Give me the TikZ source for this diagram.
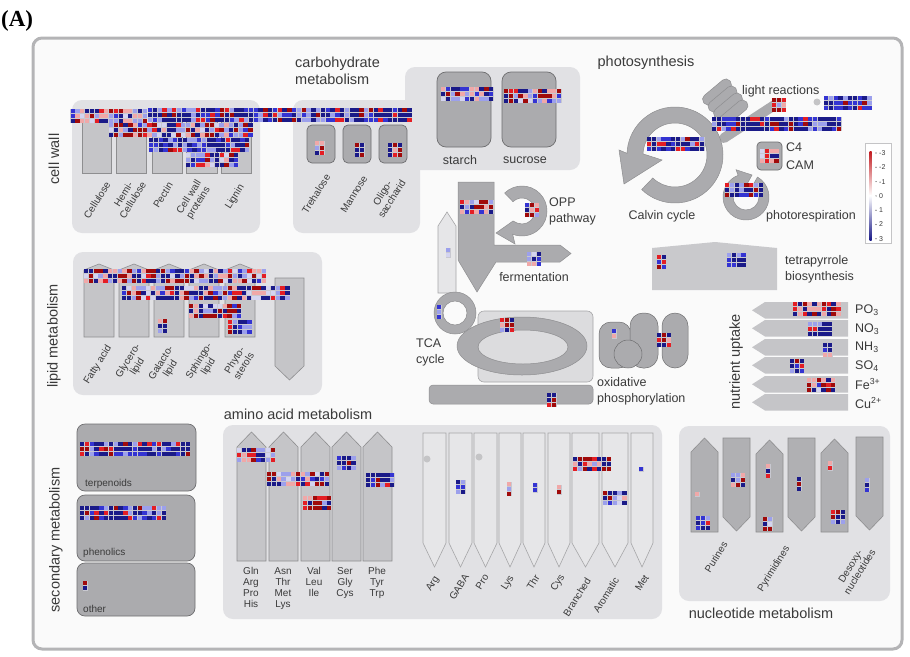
\documentclass[tikz,border=0pt]{standalone}
\usepackage{fontspec}
\setmainfont{Liberation Sans}
\newfontfamily\tagfont{Liberation Serif}
\usetikzlibrary{arrows.meta}

\definecolor{cpanel}{HTML}{E1E1E4}
\definecolor{cbox}{HTML}{C5C5C8}
\definecolor{cboxline}{HTML}{8E8E90}
\definecolor{cdark}{HTML}{ABABAE}
\definecolor{cdarkline}{HTML}{6E6E70}
\definecolor{cpale}{HTML}{E6E6E8}
\definecolor{cpaleline}{HTML}{A6A6A8}
\definecolor{ctca}{HTML}{DCDCDE}
\definecolor{ctext}{HTML}{3A3A3A}
\definecolor{cframe}{HTML}{B4B4B6}
\definecolor{cdot}{HTML}{C4C4C6}
\definecolor{hmback}{HTML}{C8C8D0}
\definecolor{hmnavy}{HTML}{1A1A88}
\definecolor{hmblue}{HTML}{3434D2}
\definecolor{hmlb}{HTML}{9CA0EC}
\definecolor{hmpale}{HTML}{D4D4F0}
\definecolor{hmlr}{HTML}{F0A8A8}
\definecolor{hmred}{HTML}{E41E24}
\definecolor{hmdred}{HTML}{A00A0A}

% colour mixes of the expression blocks
\pgfmathdeclarerandomlist{b}{{hmnavy}{hmnavy}{hmnavy}{hmnavy}{hmnavy}{hmblue}{hmblue}{hmlb}{hmlb}{hmred}{hmdred}}
\pgfmathdeclarerandomlist{m}{{hmnavy}{hmnavy}{hmnavy}{hmblue}{hmlb}{hmlb}{hmpale}{hmlr}{hmlr}{hmred}{hmdred}{hmdred}}
\pgfmathdeclarerandomlist{r}{{hmdred}{hmdred}{hmdred}{hmred}{hmred}{hmlr}{hmlr}{hmlb}{hmnavy}{hmnavy}}

% x, y, columns, rows, mix
\newcommand{\heat}[5]{%
  \fill[hmback] ({#1-0.5},{#2-0.5}) rectangle ++({#3*4.8+0.5},{#4*4.8+0.5});
  \foreach \cx in {1,...,#3}{
    \foreach \cy in {1,...,#4}{
      \pgfmathrandomitem{\hcol}{#5}
      \fill[fill=\hcol] ({#1+(\cx-1)*4.8},{#2+(\cy-1)*4.8}) rectangle ++(4.3,4.3);
    }
  }
}

\begin{document}
\begin{tikzpicture}[
  x=1pt, y=-1pt,
  wallbox/.style={fill=cbox, draw=cboxline, line width=0.6pt},
  darkbox/.style={fill=cdark, draw=cdarkline, line width=0.7pt},
  paleshape/.style={fill=cpale, draw=cpaleline, line width=0.6pt},
  ring/.style={fill=cdark, draw=cboxline, line width=0.5pt},
  sect/.style={font=\fontsize{14.5}{17}\selectfont, text=ctext, inner sep=0pt, align=left},
  lab/.style={font=\fontsize{12.5}{16}\selectfont, text=ctext, inner sep=0pt, align=left},
  rotlab/.style={font=\fontsize{10}{11}\selectfont, text=ctext, inner sep=0pt, align=center, rotate=58},
  boxlab/.style={font=\fontsize{10}{11}\selectfont, text=ctext, inner sep=0pt, align=center},
  legtxt/.style={font=\fontsize{7}{8}\selectfont, text=ctext, inner sep=0pt}
]
\pgfmathsetseed{4211}
\useasboundingbox (0,0) rectangle (910,656);

% frame and title
\draw[cframe, line width=3pt, rounded corners=9pt, fill=white!98!black] (33,38) rectangle (902,649);
\node[font=\tagfont\bfseries\fontsize{23}{26}\selectfont, anchor=west, inner sep=0pt] (tag) at (1,21) {(A)};

% panels
\fill[cpanel, rounded corners=10pt] (72,100) rectangle (260,233);
\fill[cpanel, rounded corners=10pt] (293,100) rectangle (420,233);
\fill[cpanel, rounded corners=10pt] (405,67) rectangle (580,170);
\fill[cpanel, rounded corners=10pt] (73,252) rectangle (322,395);
\fill[cpanel, rounded corners=10pt] (223,425) rectangle (662,619);
\fill[cpanel, rounded corners=10pt] (679,426) rectangle (890,601);

% cell wall and carbohydrates
\foreach \a/\b in {82/111,116/146,152/182,186/217,221/251}
  \filldraw[wallbox] (\a,118) rectangle (\b,173);
\foreach \a in {307,343,379}
  \filldraw[darkbox, rounded corners=5pt] (\a,125) rectangle ++(28,38);
\filldraw[darkbox, rounded corners=9pt] (437,72) rectangle (491,147);
\filldraw[darkbox, rounded corners=9pt] (502,72) rectangle (556,147);

% lipids
\foreach \a in {84,119,154,189,225}
  \filldraw[wallbox] (\a,337) -- (\a,270) -- ({\a+15},264) -- ({\a+30},270) -- ({\a+30},337) -- cycle;
\filldraw[wallbox] (275,278) -- (304,278) -- (304,366) -- (289.5,380) -- (275,366) -- cycle;

% secondary metabolism
\filldraw[darkbox, rounded corners=8pt] (77,424) rectangle (196,491);
\filldraw[darkbox, rounded corners=8pt] (77,495) rectangle (195,561);
\filldraw[darkbox, rounded corners=8pt] (77,563) rectangle (195,616);

% amino acids
\foreach \a in {237,269,301,332,363}
  \filldraw[wallbox] (\a,561) -- (\a,447) -- ({\a+14.5},432) -- ({\a+29},447) -- ({\a+29},561) -- cycle;
\foreach \a/\b in {423/446,449/472,474/497,499/521,523/545,548/570,572/599,602/628,631/653}
  \filldraw[paleshape] (\a,433) -- (\b,433) -- (\b,543) -- ({(\a+\b)/2},567) -- (\a,543) -- cycle;
\fill[cdot] (427,459) circle[radius=3.5];
\fill[cdot] (479,457) circle[radius=3.5];

% nucleotides
\foreach \a/\t in {691/438,756/440,821/439}
  \filldraw[wallbox, fill=cdark!80!cbox] (\a,532) -- (\a,{\t+14}) -- ({\a+13.5},\t) -- ({\a+27},{\t+14}) -- ({\a+27},532) -- cycle;
\foreach \a/\t in {723/438,788/438,856/437}
  \filldraw[wallbox, fill=cdark!80!cbox] (\a,\t) -- ({\a+27},\t) -- ({\a+27},{\t+79}) -- ({\a+13.5},{\t+93}) -- (\a,{\t+79}) -- cycle;

% glycolysis, fermentation, OPP
\filldraw[ring] (458,182) -- (494,182) -- (494,245) -- (560,245) -- (571,253.5) -- (560,262) -- (496,262) -- (477,292) -- (458,260) -- cycle;
\filldraw[paleshape] (438,293) -- (438,226) -- (447,212) -- (456,226) -- (456,293) -- cycle;
\begin{scope}[shift={(522,211)}]
  \filldraw[ring] (-134:25) arc[start angle=-134, end angle=112, radius=25] -- (-7,33) -- (-26,22) -- (-9,10)
    -- (112:13) arc[start angle=112, end angle=-134, radius=13] -- cycle;
\end{scope}

% TCA and mitochondrial electron transport
\filldraw[ring, even odd rule] (455,313) circle[radius=21] (455,313) circle[radius=12];
\filldraw[paleshape, fill=ctca, rounded corners=6pt] (478,311) rectangle (593,382);
\filldraw[ring, even odd rule] (522,346) ellipse[x radius=65, y radius=29] (523,347) ellipse[x radius=45, y radius=17];
\filldraw[ring, rounded corners=4pt] (429,385) rectangle (593,404);
\filldraw[ring, draw=cdarkline, rounded corners=12pt] (599,322) rectangle (631,368);
\filldraw[ring, draw=cdarkline, rounded corners=13pt] (630,313) rectangle (658,368);
\filldraw[ring, draw=cdarkline, rounded corners=13pt] (662,313) rectangle (688,368);
\filldraw[ring, draw=cdarkline] (628,354) circle[radius=14];

% photosynthesis
\draw[cdark, line width=10pt, line cap=round] (724,138) -- (776,104);
\foreach \k in {0,...,3}
  \filldraw[ring, shift={({717+5.5*\k},{92+7*\k})}, rotate=40, rounded corners=5pt] (-17,-5.5) rectangle (17,5.5);
\begin{scope}[shift={(675,155)}]
  \filldraw[ring] (134:48) arc[start angle=134, end angle=-178, radius=48] -- (-56,-5) -- (-51,29) -- (-13,5)
    -- (-178:32) arc[start angle=-178, end angle=134, radius=32] -- cycle;
\end{scope}
\begin{scope}[shift={(746,197)}]
  \filldraw[ring] (-60:23) arc[start angle=-60, end angle=250, radius=23] -- (250:29) -- (6,-22) -- (250:7)
    -- (250:13) arc[start angle=250, end angle=-60, radius=13] -- cycle;
\end{scope}
\filldraw[darkbox, rounded corners=4pt] (757,142) rectangle (782,170);
\fill[cdot] (817,102) circle[radius=3.5];

% tetrapyrrole and nutrient uptake
\fill[cbox!85!cpanel] (652,248) -- (715,242) -- (777,248) -- (777,290) -- (652,290) -- cycle;
\foreach \t in {302,320,339,357,376,394}
  \fill[cbox] (848,\t) -- (765,\t) -- (752,{\t+8.3}) -- (765,{\t+16.5}) -- (848,{\t+16.5}) -- cycle;

% expression blocks
\heat{70.5}{109}{16}{3}{m}
\heat{148}{108}{55}{3}{b}
\heat{109}{123}{30}{3}{m}
\heat{149}{138}{21}{3}{b}
\heat{186}{153}{11}{3}{m}
\heat{315}{141}{2}{3}{m}
\heat{355}{143}{2}{3}{m}
\heat{388}{143}{3}{3}{r}
\heat{441}{87}{11}{3}{m}
\heat{504}{89}{12}{3}{m}
\heat{772}{98}{3}{3}{r}
\heat{824}{96}{10}{3}{b}
\heat{712}{117}{27}{3}{b}
\heat{647}{137}{12}{3}{b}
\heat{760}{149}{4}{3}{m}
\heat{725}{183}{8}{3}{b}
\heat{525}{203}{3}{3}{m}
\heat{460}{200}{7}{3}{m}
\heat{527}{252}{3}{3}{m}
\heat{446}{248}{1}{2}{m}
\heat{437}{305}{1}{3}{b}
\heat{500}{318}{3}{3}{r}
\heat{547}{393}{2}{3}{r}
\heat{612}{329}{1}{2}{m}
\heat{657}{333}{3}{3}{r}
\heat{657}{255}{2}{3}{b}
\heat{727}{253}{4}{3}{b}
\heat{793}{302}{10}{3}{r}
\heat{808}{322}{5}{3}{b}
\heat{823}{343}{2}{3}{m}
\heat{790}{359}{3}{3}{b}
\heat{807}{378}{6}{3}{m}
\heat{84}{269}{38}{3}{m}
\heat{122}{286}{35}{3}{m}
\heat{189}{304}{11}{3}{m}
\heat{228}{320}{5}{3}{b}
\heat{158}{319}{2}{3}{m}
\heat{80}{442}{23}{3}{b}
\heat{80}{506}{18}{3}{b}
\heat{83}{581}{1}{2}{r}
\heat{237}{448}{8}{3}{m}
\heat{267}{472}{13}{3}{m}
\heat{303}{496}{6}{3}{r}
\heat{337}{456}{4}{3}{b}
\heat{366}{473}{6}{3}{b}
\heat{456}{480}{2}{3}{b}
\heat{507}{482}{1}{3}{r}
\heat{533}{483}{1}{2}{b}
\heat{557}{485}{1}{2}{r}
\heat{573}{457}{8}{3}{r}
\heat{603}{491}{5}{3}{m}
\heat{639}{467}{1}{1}{b}
\heat{695}{492}{1}{1}{m}
\heat{696}{516}{3}{3}{b}
\heat{731}{473}{3}{3}{m}
\heat{766}{464}{1}{3}{m}
\heat{763}{517}{2}{3}{m}
\heat{797}{477}{1}{3}{m}
\heat{828}{461}{1}{2}{m}
\heat{831}{510}{3}{3}{b}
\heat{865}{478}{1}{3}{b}

% section titles
\node[sect, rotate=90] (cellwall) at (54,159) {cell wall};
\node[sect, rotate=90] (lipid) at (54,336) {lipid metabolism};
\node[sect, rotate=90] (secondary) at (56,540) {secondary metabolism};
\node[sect, rotate=90] (uptake) at (736,362) {nutrient uptake};
\node[sect, anchor=north west] (carbo) at (295,57) {carbohydrate\\metabolism};
\node[sect] (photo) at (646,63) {photosynthesis};
\node[sect] (amino) at (298,414) {amino acid metabolism};
\node[sect] (nucleo) at (761,613) {nucleotide metabolism};

% pathway labels
\node[lab] (starch) at (460,160) {starch};
\node[lab] (sucrose) at (525,160) {sucrose};
\node[lab, anchor=west] (light) at (742,91) {light reactions};
\node[lab, anchor=west] (cfour) at (786,147) {C4};
\node[lab, anchor=west] (cam) at (786,165) {CAM};
\node[lab] (calvin) at (662,216) {Calvin cycle};
\node[lab] (photoresp) at (811,216) {photorespiration};
\node[lab, anchor=west] (opp) at (549,211) {OPP\\pathway};
\node[lab] (ferment) at (534,277) {fermentation};
\node[lab, anchor=west] (tetra) at (785,269) {tetrapyrrole\\biosynthesis};
\node[lab, anchor=west] (tca) at (416,352) {TCA\\cycle};
\node[lab, anchor=west] (oxphos) at (597,391) {oxidative\\phosphorylation};
\node[lab, anchor=west] (po) at (855,310) {PO\textsubscript{3}};
\node[lab, anchor=west] (no) at (855,329) {NO\textsubscript{3}};
\node[lab, anchor=west] (nh) at (855,347) {NH\textsubscript{3}};
\node[lab, anchor=west] (so) at (855,366) {SO\textsubscript{4}};
\node[lab, anchor=west] (fe) at (855,384) {Fe\textsuperscript{3+}};
\node[lab, anchor=west] (cu) at (855,403) {Cu\textsuperscript{2+}};

% rotated bin labels
\node[rotlab] (cellulose) at (97,200) {Cellulose};
\node[rotlab] (hemi) at (128,197) {Hemi-\\Cellulose};
\node[rotlab] (pectin) at (163,195) {Pectin};
\node[rotlab] (proteins) at (194,200) {Cell wall\\proteins};
\node[rotlab] (lignin) at (235,197) {Lignin};
\node[rotlab] (trehalose) at (316,194) {Trehalose};
\node[rotlab] (mannose) at (354,194) {Mannose};
\node[rotlab] (oligo) at (387,196) {Oligo-\\saccharid};
\node[rotlab] (fatty) at (98,365) {Fatty acid};
\node[rotlab] (glycero) at (133,364) {Glycero-\\lipid};
\node[rotlab] (galacto) at (166,366) {Galacto-\\lipid};
\node[rotlab] (sphingo) at (204,364) {Sphingo-\\lipid};
\node[rotlab] (phyto) at (239,363) {Phyto-\\sterols};
\node[rotlab] (arg) at (433,584) {Arg};
\node[rotlab] (gaba) at (459,587) {GABA};
\node[rotlab] (pro) at (482,582) {Pro};
\node[rotlab] (lys) at (508,583) {Lys};
\node[rotlab] (thr) at (533,582) {Thr};
\node[rotlab] (cys) at (558,583) {Cys};
\node[rotlab] (branched) at (577,597) {Branched};
\node[rotlab] (aromatic) at (606,595) {Aromatic};
\node[rotlab] (met) at (642,583) {Met};
\node[rotlab] (purines) at (716,557) {Purines};
\node[rotlab] (pyrimidines) at (774,569) {Pyrimidines};
\node[rotlab] (desoxy) at (855,569) {Desoxy-\\nucleotides};

% box labels
\node[boxlab, anchor=west] (terpenoids) at (85,484) {terpenoids};
\node[boxlab, anchor=west] (phenolics) at (83,553) {phenolics};
\node[boxlab, anchor=west] (other) at (83,609) {other};
\node[boxlab, anchor=north] (glngrp) at (251,567) {Gln\\Arg\\Pro\\His};
\node[boxlab, anchor=north] (asngrp) at (283,567) {Asn\\Thr\\Met\\Lys};
\node[boxlab, anchor=north] (valgrp) at (314,567) {Val\\Leu\\Ile};
\node[boxlab, anchor=north] (sergrp) at (345,567) {Ser\\Gly\\Cys};
\node[boxlab, anchor=north] (phegrp) at (377,567) {Phe\\Tyr\\Trp};

% legend
\filldraw[draw=cdot, fill=white, line width=0.6pt] (865,143) rectangle (891,243);
\shade[top color=hmred!85!black, bottom color=white] (869.5,151) rectangle (871.5,195.5);
\shade[top color=white, bottom color=hmnavy] (869.5,195.5) rectangle (871.5,240);
\foreach \v [count=\k from 0] in {-3,-2,-1,0,1,2,3}{
  \fill[ctext] (876,{153+14.3*\k}) circle[radius=0.6];
  \node[legtxt, anchor=west] (leg\k) at (879,{153+14.3*\k}) {\v};
}
\end{tikzpicture}
\end{document}
